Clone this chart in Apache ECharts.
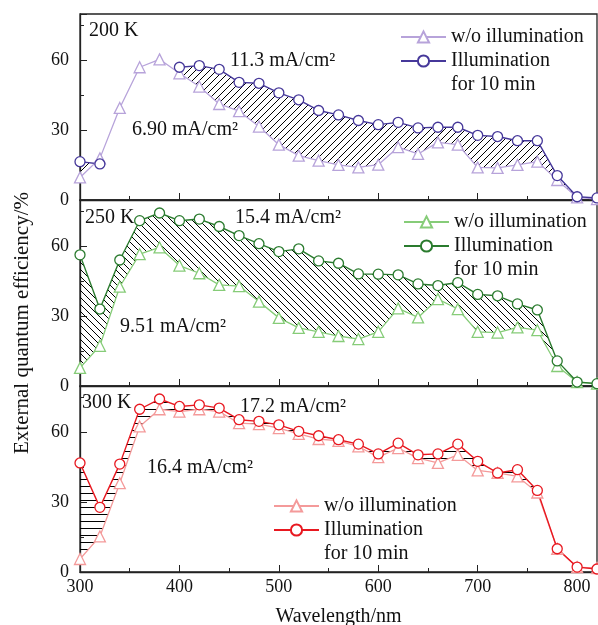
<!DOCTYPE html>
<html>
<head>
<meta charset="utf-8">
<script src="https://cdn.jsdelivr.net/npm/echarts@6/dist/echarts.min.js"></script>
<style>
html, body { margin: 0; padding: 0; background: #fff; }
#chart { width: 598px; height: 625px; }
</style>
</head>
<body>
<div id="chart"></div>
<script>
let $ = a => document.querySelector(a)

// 波长 (nm)
const wavelength = [300, 320, 340, 360, 380, 400, 420, 440, 460, 480, 500, 520, 540, 560,
    580, 600, 620, 640, 660, 680, 700, 720, 740, 760, 780, 800, 820]

// 200 K
const dark200 = [16.5, 15.5, null, null, null, 57.1, 57.8, 56.2, 50.6, 50.2, 46.1, 43.1, 38.5, 36.6,
    34.2, 32.4, 33.4, 31.0, 31.3, 31.3, 27.8, 27.3, 25.5, 25.5, 10.5, 1.4, 0.9]
const light200 = [9.7, 17.9, 39.6, 57.1, 60.5, 54.5, 48.8, 41.3, 38.2, 31.6, 23.8, 19.1, 16.9, 15.1,
    14.0, 15.2, 22.7, 19.8, 24.8, 23.8, 14.0, 13.8, 15.1, 16.5, 8.6, 1.1, 0.4]

// 250 K
const dark250 = [56.4, 33.1, 54.2, 71.1, 74.4, 71.1, 71.8, 68.6, 64.7, 61.2, 57.8, 59.0, 53.8, 52.8,
    48.2, 48.1, 47.8, 43.9, 43.2, 44.5, 39.4, 38.8, 35.3, 32.7, 10.8, 1.7, 1.0]
const light250 = [7.8, 17.3, 42.7, 56.7, 59.6, 51.8, 48.5, 43.5, 43.0, 36.3, 29.3, 25.0, 23.3, 21.5,
    20.2, 23.3, 33.4, 29.5, 37.4, 33.1, 23.3, 23.0, 25.2, 24.0, 8.6, 1.7, 1.0]

// 300 K
const dark300 = [46.9, 27.8, 46.4, 70.0, 74.4, 71.2, 71.9, 70.5, 65.5, 64.8, 63.3, 60.5, 58.6, 56.9,
    55.0, 50.8, 55.4, 50.4, 50.8, 55.0, 47.6, 42.6, 44.0, 35.1, 10.0, 2.1, 1.3]
const light300 = [5.6, 15.3, 38.2, 62.6, 70.0, 69.0, 70.0, 69.0, 64.0, 63.6, 61.9, 59.4, 57.2, 56.4,
    54.0, 49.4, 53.3, 49.0, 46.9, 50.4, 43.7, 42.6, 41.1, 34.2, 10.0, 2.1, 1.7]

const xTicks = [300, 400, 500, 600, 700, 800]
const yTicks = [0, 30, 60]

const legendText = { a: 'w/o illumination', b: 'Illumination', c: 'for 10 min' }

const FONT = '"Liberation Serif", "Times New Roman", serif'
const AXIS = '#222'

// 阴影线填充
function hatch(dir) {
    const s = 7
    const c = document.createElement('canvas')
    c.width = s
    c.height = s
    const g = c.getContext('2d')
    g.strokeStyle = '#000'
    g.lineWidth = 1
    g.beginPath()
    if (dir === 'h') {
        g.moveTo(0, 3.5); g.lineTo(s, 3.5)
    } else if (dir === '/') {
        g.moveTo(0, s); g.lineTo(s, 0)
        g.moveTo(-1, 1); g.lineTo(1, -1)
        g.moveTo(s - 1, s + 1); g.lineTo(s + 1, s - 1)
    } else {
        g.moveTo(0, 0); g.lineTo(s, s)
        g.moveTo(-1, s - 1); g.lineTo(1, s + 1)
        g.moveTo(s - 1, -1); g.lineTo(s + 1, 1)
    }
    g.stroke()
    return c
}

const panels = [
    { light: light200, dark: dark200, cl: '#b7a3da', cd: '#46389a', dir: '/', top: 14 },
    { light: light250, dark: dark250, cl: '#86cc78', cd: '#2a7b2e', dir: '\\', top: 200 },
    { light: light300, dark: dark300, cl: '#f49a9a', cd: '#e81820', dir: 'h', top: 386 }
]

const pairs = arr => wavelength.map((w, k) => [w, arr[k]])

let grids = [], xAxes = [], yAxes = [], series = [], legends = []

panels.forEach((p, i) => {
    grids.push({
        left: 80, right: 1, top: p.top, height: 186, outerBoundsMode: 'none',
        show: true, borderColor: AXIS, borderWidth: 1.3
    })
    xAxes.push({
        type: 'value', gridIndex: i, min: 300, max: 820, interval: 100,
        axisLine: { lineStyle: { color: AXIS, width: 1.3 } },
        axisTick: { inside: true, length: 7, lineStyle: { color: AXIS } },
        minorTick: { show: true, splitNumber: 2, length: 4, lineStyle: { color: AXIS } },
        splitLine: { show: false },
        axisLabel: {
            show: i === 2, showMaxLabel: false, margin: 6,
            fontFamily: FONT, fontSize: 18, color: '#111',
            formatter: v => xTicks.includes(v) ? String(v) : ''
        },
        name: i === 2 ? 'Wavelength/nm' : '',
        nameLocation: 'middle', nameGap: 35,
        nameTextStyle: { fontFamily: FONT, fontSize: 20, color: '#111' }
    })
    yAxes.push({
        type: 'value', gridIndex: i, min: 0, max: 80, interval: 30,
        axisLine: { show: true, lineStyle: { color: AXIS, width: 1.3 } },
        axisTick: { inside: true, length: 7, lineStyle: { color: AXIS } },
        minorTick: { show: true, splitNumber: 2, length: 4, lineStyle: { color: AXIS } },
        splitLine: { show: false },
        axisLabel: {
            showMaxLabel: false, margin: 11,
            fontFamily: FONT, fontSize: 18, color: '#111',
            formatter: v => yTicks.includes(v) ? String(v) : ''
        }
    })
})

// 隐藏的类目轴, 只给阴影堆叠用 (数值轴上堆叠会叠到x上)
panels.forEach((p, i) => {
    xAxes.push({ type: 'category', gridIndex: i, show: false, boundaryGap: false, data: wavelength })
})

panels.forEach((p, i) => {
    // 两条曲线之间的阴影
    const diff = p.dark.map((d, k) => d == null ? null : d - p.light[k])
    series.push({
        type: 'line', xAxisIndex: 3 + i, yAxisIndex: i, stack: 's' + i, stackStrategy: 'all',
        data: p.light, symbol: 'none', silent: true,
        lineStyle: { opacity: 0 }
    })
    series.push({
        type: 'line', xAxisIndex: 3 + i, yAxisIndex: i, stack: 's' + i, stackStrategy: 'all',
        data: diff, symbol: 'none', silent: true,
        lineStyle: { opacity: 0 },
        areaStyle: { color: { image: hatch(p.dir), repeat: 'repeat' }, opacity: 1 }
    })

    series.push({
        name: 'a' + i, type: 'line', xAxisIndex: i, yAxisIndex: i,
        data: pairs(p.light), symbol: 'triangle', symbolSize: 11,
        color: p.cl,
        lineStyle: { color: p.cl, width: 1.3 },
        itemStyle: { color: '#fff', borderColor: p.cl, borderWidth: 1.3 }
    })
    series.push({
        name: 'b' + i, type: 'line', xAxisIndex: i, yAxisIndex: i,
        data: pairs(p.dark), symbol: 'circle', symbolSize: 10,
        color: p.cd,
        lineStyle: { color: p.cd, width: 1.4 },
        itemStyle: { color: '#fff', borderColor: p.cd, borderWidth: 1.3 }
    })
    series.push({ name: 'c' + i, type: 'line', xAxisIndex: i, yAxisIndex: i, data: [] })
})

const legendPos = [[395, 22], [398, 207], [268, 491]]
legendPos.forEach((pos, i) => {
    legends.push({
        orient: 'vertical', left: pos[0], top: pos[1],
        itemWidth: 45, itemHeight: 14, itemGap: 4, selectedMode: false,
        data: [{ name: 'a' + i }, { name: 'b' + i }, { name: 'c' + i, icon: 'none' }],
        formatter: n => legendText[n[0]],
        textStyle: { fontFamily: FONT, fontSize: 20, color: '#111', lineHeight: 20 }
    })
})

// 文字标注
const notes = [
    ['200 K', 89, 31], ['11.3 mA/cm²', 230, 61], ['6.90 mA/cm²', 132, 130],
    ['250 K', 85, 218], ['15.4 mA/cm²', 235, 218], ['9.51 mA/cm²', 120, 327],
    ['300 K', 82, 403], ['17.2 mA/cm²', 240, 407], ['16.4 mA/cm²', 147, 468]
]

let graphics = notes.map(n => ({
    type: 'text', x: n[1], y: n[2], z: 10,
    style: { text: n[0], font: '20px ' + FONT, fill: '#111', align: 'left', verticalAlign: 'middle' }
}))
graphics.push({
    type: 'text', x: 22, y: 323, rotation: Math.PI / 2,
    style: { text: 'External quantum efficiency/%', font: '21px ' + FONT, fill: '#111', align: 'center', verticalAlign: 'middle' }
})

echarts.init($('#chart')).setOption({
    animation: false,
    backgroundColor: '#fff',
    grid: grids,
    xAxis: xAxes,
    yAxis: yAxes,
    legend: legends,
    graphic: graphics,
    series: series
})
</script>
</body>
</html>
